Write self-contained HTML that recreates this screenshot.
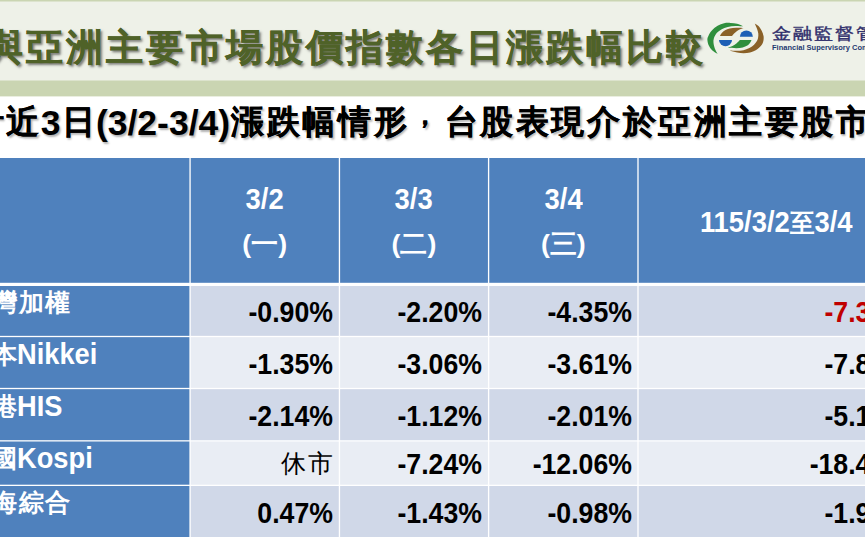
<!DOCTYPE html>
<html lang="zh-Hant">
<head>
<meta charset="utf-8">
<title>股價指數各日漲跌幅比較</title>
<style>
html,body{margin:0;padding:0;}
body{width:865px;height:539px;overflow:hidden;background:#fff;position:relative;
  font-family:"Liberation Sans",sans-serif;}
#bg{position:absolute;left:0;top:0;width:865px;height:539px;display:block;}
.t{position:absolute;white-space:nowrap;font-weight:bold;line-height:1;margin:0;padding:0;}
/* title: 40px pitch */
#title{left:-14.2px;top:28.5px;font-size:37px;letter-spacing:3.03px;color:#4f6228;-webkit-text-stroke:.3px #4f6228;
  text-shadow:2px 2px 2.5px rgba(0,0,0,.5);}
/* subtitle: 35.56px CJK pitch, 36px latin */
#sub{left:-30.5px;top:106px;font-size:35.5px;color:#000;
  text-shadow:1.5px 1.5px 2px rgba(0,0,0,.3);}
#sub .k{-webkit-text-stroke:.25px #000;font-size:33px;letter-spacing:2.56px;margin-left:1.28px;margin-right:-1.28px;position:relative;top:-2.5px;}
/* table text: ~20pt; latin glyphs are tall/narrow in the source -> 29px scaled .92 horizontally */
.h{font-size:29px;color:#fff;text-align:center;width:149.33px;transform:scaleX(.945);transform-origin:50% 0;}
.h2{font-size:26.67px;transform:none;}
.lab{font-size:29px;color:#fff;left:-35.7px;}
.lab .k{font-size:25px;letter-spacing:1.7px;margin-left:.85px;margin-right:-1.4px;position:relative;top:-1.5px;}
.lab .e{display:inline-block;transform:scaleX(.94);transform-origin:0 0;}
.n{font-size:29px;color:#000;text-align:right;width:120px;transform:scaleX(.92);transform-origin:100% 0;}
.n.cj{transform:none;font-size:26.67px;}
.n .k{font-size:25px;letter-spacing:1.7px;margin-right:-1.7px;}
.c1{left:213px}.c2{left:362.3px}.c3{left:511.6px}.c4{left:789.3px}
.r1{top:298px}.r2{top:350px}.r3{top:402px}.r4{top:450px}.r5{top:499px}
#sub .cm{position:relative;top:-8.6px;left:3px;font-size:26px;letter-spacing:9.56px;}
.red{color:#c00000}
.reg{font-weight:normal}
#fsc1{left:771.8px;top:26px;font-size:18.6px;color:#2e2d6b;font-weight:400;-webkit-text-stroke:.45px #2e2d6b;letter-spacing:2.0px;
  transform:scaleY(.84);transform-origin:0 0;}
#fsc2{left:772px;top:43.6px;font-size:7.5px;color:#1f3a70;}
</style>
</head>
<body>
<svg id="bg" width="865" height="539" viewBox="0 0 865 539">
  <!-- header -->
  <rect x="0" y="0" width="865" height="96.4" fill="#cad5b2"/>
  <rect x="0" y="1.5" width="865" height="79" fill="#eef1e8"/>
  <!-- logo -->
  <g id="logo">
    <path fill="#2f8f3d" d="M743.2,26.3 C742.2,25.9 739.2,24.4 737.1,23.8 C735.0,23.2 732.8,23.0 730.6,22.9 C728.5,22.8 726.3,22.7 724.1,23.2 C722.0,23.6 719.6,24.5 717.6,25.7 C715.6,26.9 713.6,28.6 712.1,30.3 C710.5,32.0 709.1,34.3 708.4,35.9 C707.6,37.5 707.3,38.4 707.4,40.1 C707.5,41.7 708.0,43.9 708.8,45.6 C709.6,47.3 710.6,48.9 712.1,50.3 C713.5,51.7 716.7,53.4 717.6,54.0 C717.2,53.1 715.5,50.3 714.8,48.4 C714.2,46.6 713.6,44.5 713.5,42.8 C713.3,41.1 713.4,39.8 713.9,38.2 C714.5,36.6 715.5,34.6 716.7,33.1 C717.9,31.6 719.5,30.4 721.3,29.4 C723.2,28.3 725.5,27.5 727.8,26.9 C730.2,26.3 732.7,26.0 735.3,26.0 C737.8,25.9 741.8,26.3 743.2,26.3 Z"/>
    <path fill="#8a6128" d="M754.8,23.5 C755.4,24.0 757.3,24.9 758.5,26.1 C759.6,27.3 760.9,29.1 761.7,30.8 C762.6,32.5 763.3,34.5 763.6,36.3 C763.8,38.2 763.7,40.2 763.1,41.9 C762.6,43.6 761.6,45.2 760.3,46.6 C759.1,47.9 757.4,49.3 755.7,50.3 C754.0,51.3 752.1,52.1 750.1,52.6 C748.1,53.1 745.8,53.2 743.6,53.2 C741.5,53.2 739.4,53.0 737.1,52.6 C734.8,52.1 730.9,50.9 729.7,50.5 C731.4,50.6 737.1,50.9 739.9,50.7 C742.7,50.5 744.4,50.0 746.4,49.3 C748.4,48.6 750.4,47.6 752.0,46.6 C753.5,45.5 754.7,44.2 755.7,42.8 C756.7,41.5 757.6,39.7 758.0,38.2 C758.4,36.7 758.4,35.1 758.3,33.6 C758.1,32.0 757.7,30.6 757.1,28.9 C756.5,27.3 755.1,24.4 754.8,23.5 Z"/>
    <path fill="#8a6128" d="M720.0,35.9 C720.3,35.4 721.0,34.0 721.8,33.1 C722.7,32.2 723.7,31.1 725.1,30.3 C726.4,29.6 727.8,29.1 729.7,28.6 C731.6,28.2 733.9,27.9 736.2,27.8 C738.5,27.7 742.4,28.0 743.6,28.0 C742.8,28.3 740.4,29.1 739.0,29.8 C737.6,30.6 736.4,31.6 735.3,32.6 C734.1,33.6 732.6,35.3 732.0,35.9 Z"/>
    <path fill="#2f8f3d" d="M751.5,40.1 C751.3,40.5 750.8,41.9 750.1,42.8 C749.4,43.8 748.6,44.9 747.3,45.6 C746.1,46.4 744.5,47.0 742.7,47.5 C740.8,47.9 738.7,48.2 736.2,48.2 C733.7,48.2 729.2,47.6 727.8,47.5 C728.6,47.3 731.0,46.8 732.5,46.1 C734.0,45.4 735.4,44.3 736.7,43.3 C737.9,42.3 739.4,40.6 739.9,40.1 Z"/>
    <path fill="#1d5fb5" d="M739.9,36.8 A6.5,6.3 0 0 1 752.9,36.8 Z"/>
    <path fill="#1d5fb5" d="M719,39.9 A6.5,6.3 0 0 0 732,39.9 Z"/>
  </g>
  <!-- table fills -->
  <rect x="0" y="158" width="920" height="379" fill="#4f81bd"/>
  <rect x="190" y="284" width="730" height="52.5" fill="#d0d8e8"/>
  <rect x="190" y="336.5" width="730" height="52" fill="#e9edf4"/>
  <rect x="190" y="388.5" width="730" height="52.35" fill="#d0d8e8"/>
  <rect x="190" y="440.85" width="730" height="44.5" fill="#e9edf4"/>
  <rect x="190" y="485.35" width="730" height="51.65" fill="#d0d8e8"/>
  <!-- grid lines -->
  <g fill="#fff">
    <rect x="189.4" y="158" width="1.33" height="379"/>
    <rect x="338.78" y="158" width="1.33" height="379"/>
    <rect x="487.93" y="158" width="1.33" height="379"/>
    <rect x="637.33" y="158" width="1.33" height="379"/>
    <rect x="0" y="282.8" width="920" height="3.2"/>
    <rect x="0" y="335.85" width="920" height="1.3"/>
    <rect x="0" y="387.85" width="920" height="1.3"/>
    <rect x="0" y="440.2" width="920" height="1.3"/>
    <rect x="0" y="484.7" width="920" height="1.3"/>
  </g>
</svg>

<div class="t" id="title">與亞洲主要市場股價指數各日漲跌幅比較</div>
<div class="t" id="sub"><span class="k">計近</span>3<span class="k">日</span>(3/2-3/4)<span class="k">漲跌幅情形<span class="cm">，</span>台股表現介於亞洲主要股市</span></div>

<div class="t" id="fsc1">金融監督管理</div>
<div class="t" id="fsc2">Financial Supervisory Commission</div>

<div class="t h" style="left:190px;top:184.7px">3/2</div>
<div class="t h h2" style="left:190px;top:231.3px">(一)</div>
<div class="t h" style="left:339.3px;top:184.7px">3/3</div>
<div class="t h h2" style="left:339.3px;top:231.3px">(二)</div>
<div class="t h" style="left:488.6px;top:184.7px">3/4</div>
<div class="t h h2" style="left:488.6px;top:231.3px">(三)</div>
<div class="t h" style="left:637.1px;top:208.2px;width:278.4px">115/3/2<span style="font-size:26px">至</span>3/4</div>

<div class="t lab" style="top:288px"><span class="k">台灣加權</span></div>
<div class="t lab" style="top:340px"><span class="k">日本</span><span class="e">Nikkei</span></div>
<div class="t lab" style="top:392px"><span class="k">香港</span><span class="e">HIS</span></div>
<div class="t lab" style="top:444px"><span class="k">韓國</span><span class="e">Kospi</span></div>
<div class="t lab" style="top:488.5px"><span class="k">上海綜合</span></div>

<div class="t n c1 r1">-0.90%</div><div class="t n c2 r1">-2.20%</div><div class="t n c3 r1">-4.35%</div><div class="t n c4 r1 red">-7.30%</div>
<div class="t n c1 r2">-1.35%</div><div class="t n c2 r2">-3.06%</div><div class="t n c3 r2">-3.61%</div><div class="t n c4 r2">-7.82%</div>
<div class="t n c1 r3">-2.14%</div><div class="t n c2 r3">-1.12%</div><div class="t n c3 r3">-2.01%</div><div class="t n c4 r3">-5.18%</div>
<div class="t n cj c1 r4 reg"><span class="k">休市</span></div><div class="t n c2 r4">-7.24%</div><div class="t n c3 r4">-12.06%</div><div class="t n c4 r4">-18.43%</div>
<div class="t n c1 r5">0.47%</div><div class="t n c2 r5">-1.43%</div><div class="t n c3 r5">-0.98%</div><div class="t n c4 r5">-1.94%</div>
</body>
</html>
